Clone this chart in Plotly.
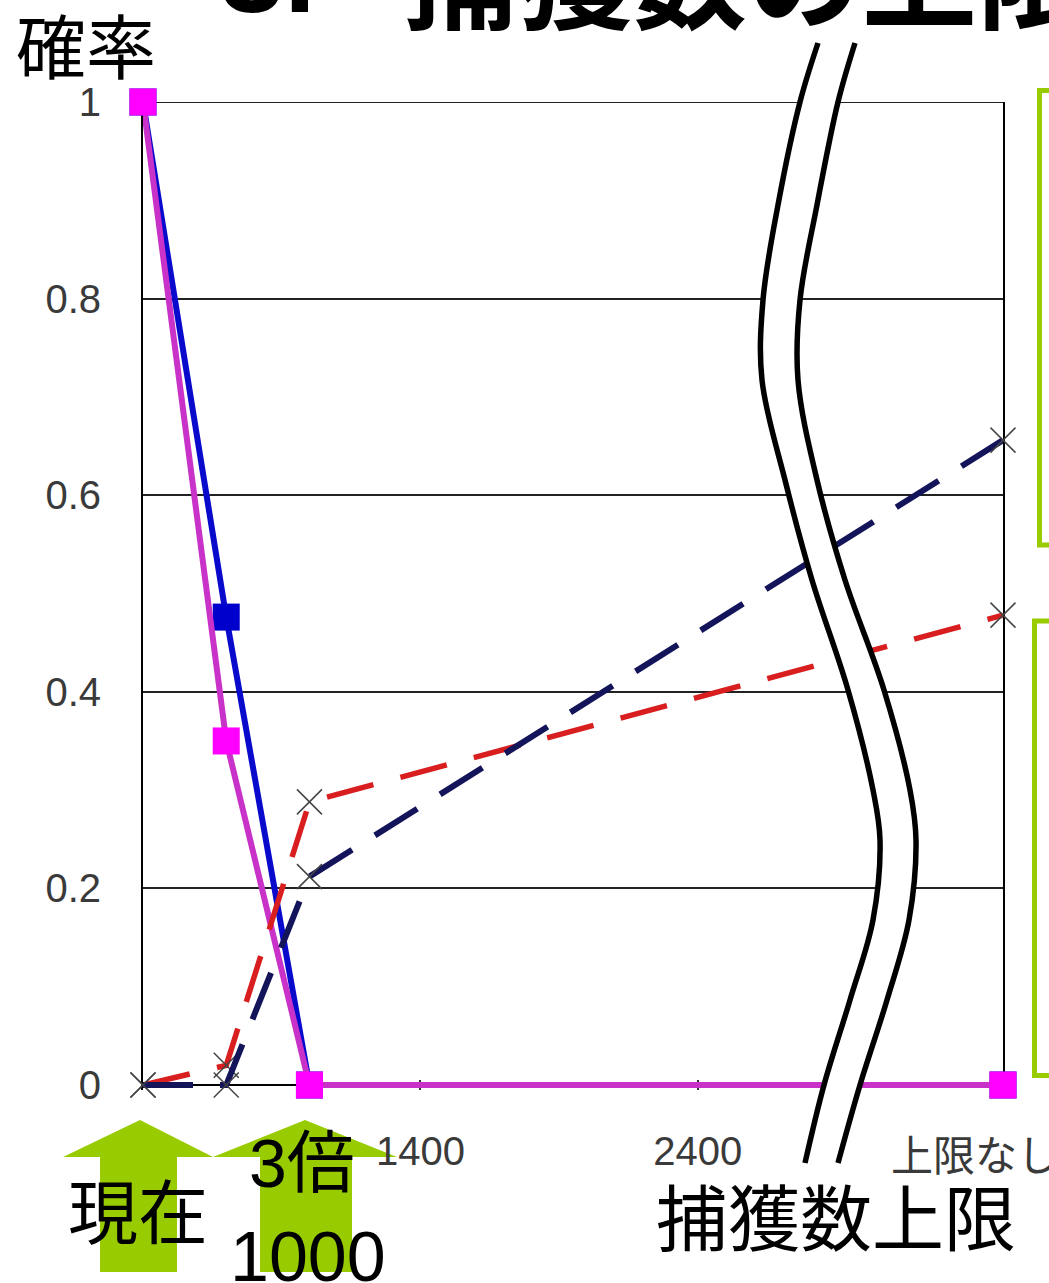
import plotly.graph_objects as go

W, H = 1049, 1283

# ---------------- data ----------------
catch_limit = [400, 700, 1000, 3500]          # last point is the "no limit" case
x_tick_vals = [1400, 2400]
x_tick_text = ["1400", "2400"]
no_limit_pos = 3400
no_limit_text = "上限なし"
y_tick_vals = [0, 0.2, 0.4, 0.6, 0.8, 1]
y_tick_text = ["0", "0.2", "0.4", "0.6", "0.8", "1"]

prob_pink = [1, 0.35, 0, 0]
prob_blue = [1, 0.476, 0, 0]
prob_red = [0, 0.02, 0.288, 0.478]
prob_navy = [0, 0, 0.212, 0.656]

# ---------------- page geometry (pixels) ----------------
PX_LEFT, PX_RIGHT = 143, 1003
PX_ONE, PX_ZERO = 102, 1085
Y_LO = -0.005
PX_BOTTOM = PX_ZERO - Y_LO * (PX_ZERO - PX_ONE)


def fx(px):
    return px / W


def fy(py):
    return 1 - py / H


# axis-break mark (two wavy strokes), page pixels
break_y = [43, 102, 205, 300, 380, 480, 580, 690, 790, 840, 920, 1000, 1085, 1163]
break_left_x = [818, 800, 778, 763, 762, 785, 812, 848, 873, 880, 873, 850, 824, 805]
break_right_x = [855, 838, 817, 800, 798, 817, 845, 884, 910, 916, 909, 887, 860, 838]

GREEN = "#99CC00"
CJK = "Noto Sans CJK JP"
LATIN = "Liberation Sans, Arial, Noto Sans CJK JP"

fig = go.Figure()

# ---------------- probability curves ----------------
fig.add_trace(go.Scatter(
    x=catch_limit, y=prob_blue, mode="lines+markers", cliponaxis=False,
    line=dict(color="#0A0ACC", width=6),
    marker=dict(symbol="square", size=27, color="#0000CC", line=dict(width=0)),
))
fig.add_trace(go.Scatter(
    x=catch_limit, y=prob_pink, mode="lines+markers", cliponaxis=False,
    line=dict(color="#C832C8", width=6),
    marker=dict(symbol="square", size=27, color="#FF00FF", line=dict(width=0)),
))
fig.add_trace(go.Scatter(
    x=catch_limit, y=prob_red, mode="lines+markers", cliponaxis=False,
    line=dict(color="#D81E1E", width=5.5, dash="48px,28px"),
    marker=dict(symbol="x-thin", size=25, color="#444444",
                line=dict(color="#444444", width=1.5)),
))
fig.add_trace(go.Scatter(
    x=catch_limit, y=prob_navy, mode="lines+markers", cliponaxis=False,
    line=dict(color="#14145A", width=6, dash="50px,27px"),
    marker=dict(symbol="x-thin", size=25, color="#444444",
                line=dict(color="#444444", width=1.5)),
))

# ---------------- axis-break mark on a full-page pixel subplot ----------------
fig.add_trace(go.Scatter(
    x=break_left_x + break_right_x[::-1], y=break_y + break_y[::-1],
    xaxis="x2", yaxis="y2", mode="lines", fill="toself", fillcolor="white",
    line=dict(width=0, shape="spline", smoothing=1),
))
for bx in (break_left_x, break_right_x):
    fig.add_trace(go.Scatter(
        x=bx, y=break_y, xaxis="x2", yaxis="y2", mode="lines",
        line=dict(color="black", width=5.5, shape="spline", smoothing=1),
    ))

# ---------------- frame top edge, green arrows and boxes ----------------
def poly(points):
    return "M " + " L ".join(f"{fx(x):.5f},{fy(y):.5f}" for x, y in points) + " Z"


arrow_now = [(63, 1157), (140, 1120), (213, 1157), (177, 1157), (177, 1272), (100, 1272), (100, 1157)]
arrow_x3 = [(213, 1157), (305, 1120), (397, 1157), (352, 1157), (352, 1272), (260, 1272), (260, 1157)]
shapes = [
    dict(type="line", xref="x domain", yref="y", x0=0, x1=1, y0=1, y1=1,
         line=dict(color="#222222", width=1.8), layer="below"),
    dict(type="path", xref="paper", yref="paper", path=poly(arrow_now),
         fillcolor=GREEN, line=dict(width=0), layer="below"),
    dict(type="path", xref="paper", yref="paper", path=poly(arrow_x3),
         fillcolor=GREEN, line=dict(width=0), layer="below"),
    dict(type="rect", xref="paper", yref="paper",
         x0=fx(1039.5), x1=fx(1075), y0=fy(90.5), y1=fy(545),
         line=dict(color=GREEN, width=5), layer="above"),
    dict(type="rect", xref="paper", yref="paper",
         x0=fx(1034.5), x1=fx(1075), y0=fy(621), y1=fy(1075.5),
         line=dict(color=GREEN, width=5), layer="above"),
]

# ---------------- text ----------------
def label(text, x, y, size, family=CJK, xanchor="center", yanchor="middle",
          color="black", weight="normal"):
    return dict(text=text, x=fx(x), y=fy(y), xref="paper", yref="paper",
                xanchor=xanchor, yanchor=yanchor, showarrow=False,
                font=dict(family=family, size=size, color=color, weight=weight))


annotations = [
    label("3.", 218, 38, 115, family=LATIN, xanchor="left", yanchor="bottom", weight="bold"),
    label("捕獲数の上限", 400, 46, 115, family=LATIN, xanchor="left", yanchor="bottom", weight="bold"),
    label("確率", 86, 44, 70),
    label("捕獲数上限", 836, 1213, 72),
    label("現在", 138, 1208, 70),
    label("3倍", 302, 1163, 68, family=LATIN),
    label("1000", 308, 1257, 70, family=LATIN),
    dict(text=no_limit_text, x=no_limit_pos, y=fy(1152), xref="x", yref="paper",
         xanchor="center", yanchor="middle", showarrow=False,
         font=dict(family=CJK, size=42, color="#3a3a3a")),
]

fig.update_layout(
    width=W, height=H,
    margin=dict(l=0, r=0, t=0, b=0, autoexpand=False),
    paper_bgcolor="white", plot_bgcolor="rgba(0,0,0,0)",
    showlegend=False, hovermode=False,
    shapes=shapes, annotations=annotations,
    xaxis=dict(
        domain=[fx(PX_LEFT), fx(PX_RIGHT)], range=[400, 3500],
        tickmode="array", tickvals=x_tick_vals, ticktext=x_tick_text,
        ticks="inside", ticklen=10, tickwidth=1.5, tickcolor="#333333",
        tickfont=dict(family=LATIN, size=40, color="#3a3a3a"),
        ticklabelstandoff=34,
        showgrid=False, zeroline=False, showline=False, layer="below traces",
        anchor="y", fixedrange=True, automargin=False,
    ),
    yaxis=dict(
        domain=[fy(PX_BOTTOM), fy(PX_ONE)], range=[Y_LO, 1],
        tickmode="array", tickvals=y_tick_vals, ticktext=y_tick_text,
        ticks="", tickfont=dict(family=LATIN, size=40, color="#3a3a3a"),
        ticklabelstandoff=32,
        showgrid=True, gridcolor="#222222", gridwidth=1.8,
        zeroline=True, zerolinecolor="black", zerolinewidth=2,
        showline=True, linecolor="black", linewidth=2, mirror=True,
        layer="below traces", anchor="x", fixedrange=True, automargin=False,
    ),
    xaxis2=dict(domain=[0, 1], range=[0, W], visible=False, anchor="y2", fixedrange=True),
    yaxis2=dict(domain=[0, 1], range=[H, 0], visible=False, anchor="x2", fixedrange=True),
)

fig.write_html("out.html")
